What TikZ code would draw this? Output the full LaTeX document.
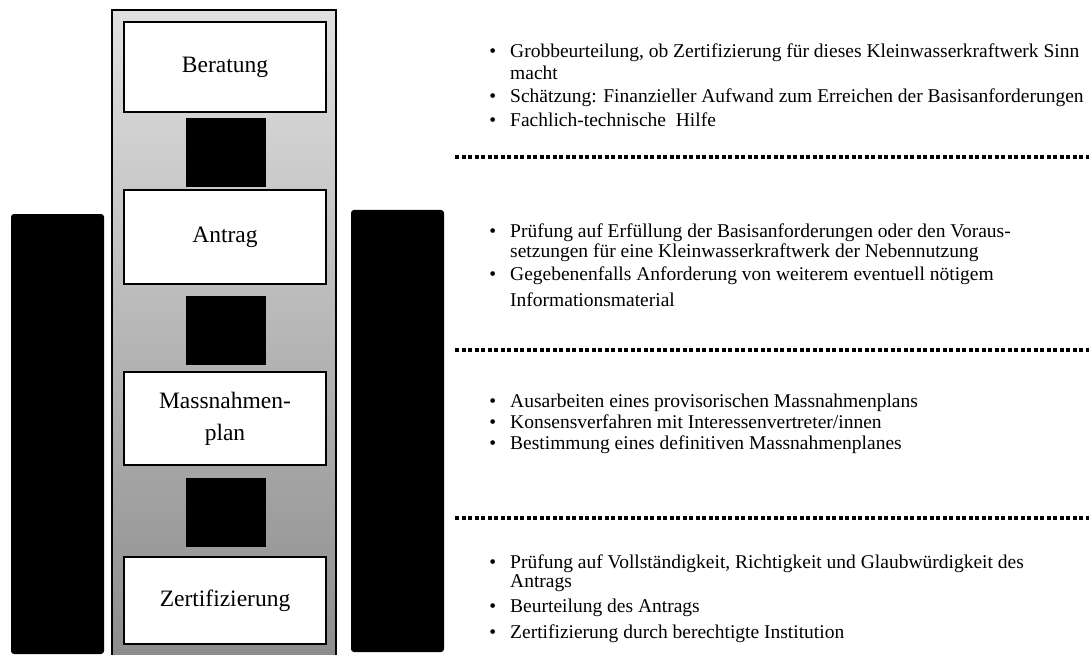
\documentclass[tikz,border=0pt]{standalone}
\usepackage{fontspec}
\setmainfont{Liberation Serif}
\usepackage{tikz}
\usetikzlibrary{positioning}
\newcommand{\bul}{\llap{\textbullet\hspace{14pt}}}

\begin{document}
\begin{tikzpicture}[x=1pt,y=-1pt]
    \useasboundingbox (0,0) rectangle (1089,655);

    %Column
    \node[draw, line width=1.5pt, top color=black!12, bottom color=black!45,
      minimum width=224pt, minimum height=648pt, inner sep=0] (column) at (224,334) {};

    %Side bars
     \begin{scope}[every node/.style={fill=black, rounded corners=3pt,
       minimum width=93pt, inner sep=0}]
       \node[minimum height=440pt] (leftbar) at (57.5,434) {};
       \node[minimum height=442pt] (rightbar) at (397.5,431) {};
    \end{scope}

    %Steps
     \begin{scope}[every node/.style={draw, fill=white, line width=1.2pt,
       minimum width=202pt, inner sep=0, align=center,
       font=\fontsize{23.5}{32}\selectfont}]
       \node[minimum height=90pt] (beratung) at (225,67) {Beratung};
       \node[minimum height=94pt] (antrag) at (225,237) {Antrag};
       \node[minimum height=93pt] (plan) at (225,418.5) {Massnahmen-\\plan};
       \node[minimum height=87pt] (zert) at (225,600.5) {Zertifizierung};
    \end{scope}

    %Blocks between steps
     \begin{scope}[every node/.style={fill=black, minimum width=80pt,
       minimum height=69pt, inner sep=0}]
       \node (blk1) at (226,152.5) {};
       \node (blk2) at (226,330.5) {};
       \node (blk3) at (226,512.5) {};
    \end{scope}

    %Separators
     \begin{scope}[line width=4pt, dash pattern=on 4pt off 2.5pt]
       \draw (455,157) -- (1089,157);
       \draw (455,350) -- (1089,350);
       \draw (455,518) -- (1089,518);
    \end{scope}

    %Notes
     \begin{scope}[every node/.style={anchor=base west, inner sep=0,
       font=\fontsize{19.5}{20}\selectfont}]
       \node (ber1) at (510,58) {\bul Grobbeurteilung, ob Zertifizierung für dieses Kleinwasserkraftwerk Sinn};
       \node (ber1b) at (510,80) {macht};
       \node (ber2) at (510,103) {\bul Schätzung: Finanzieller Aufwand zum Erreichen der Basisanforderungen};
       \node (ber3) at (510,127) {\bul Fachlich-technische\ \ Hilfe};

       \node (ant1) at (510,237) {\bul Prüfung auf Erfüllung der Basisanforderungen oder den Voraus-};
       \node (ant1b) at (510,257) {setzungen für eine Kleinwasserkraftwerk der Nebennutzung};
       \node (ant2) at (510,280) {\bul Gegebenenfalls Anforderung von weiterem eventuell nötigem};
       \node (ant2b) at (510,306) {Informationsmaterial};

       \node (pla1) at (510,407) {\bul Ausarbeiten eines provisorischen Massnahmenplans};
       \node (pla2) at (510,428) {\bul Konsensverfahren\ mit\ Interessenvertreter/innen};
       \node (pla3) at (510,449) {\bul Bestimmung eines definitiven Massnahmenplanes};

       \node (zer1) at (510,568) {\bul Prüfung auf Vollständigkeit, Richtigkeit und Glaubwürdigkeit des};
       \node (zer1b) at (510,587) {Antrags};
       \node (zer2) at (510,612) {\bul Beurteilung des Antrags};
       \node (zer3) at (510,638) {\bul Zertifizierung durch berechtigte Institution};
    \end{scope}
\end{tikzpicture}
\end{document}
